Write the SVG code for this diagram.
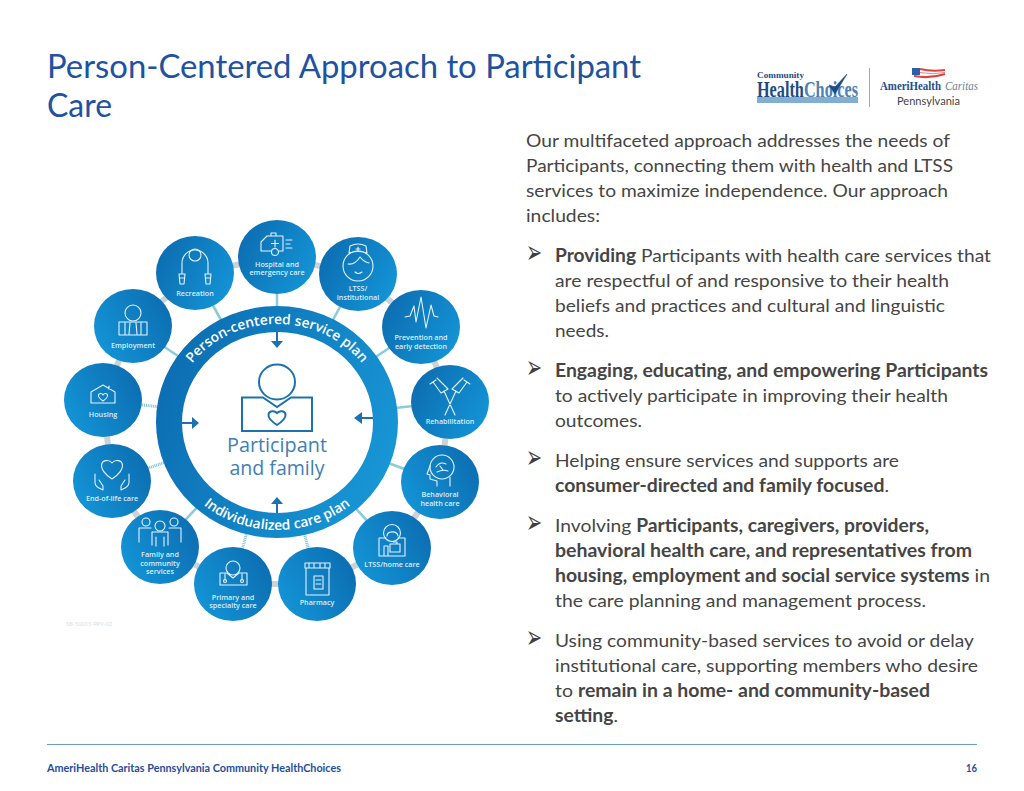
<svg xmlns="http://www.w3.org/2000/svg" width="1024" height="791" viewBox="0 0 1024 791">
<style>
text{font-family:"Lato","Liberation Sans",sans-serif}
.t{font-size:32px;font-weight:400;fill:#2152a0}
.b{font-size:18.2px;fill:#454545}
.bb{font-weight:700}
.bu{font-family:"DejaVu Sans",sans-serif;font-size:16px;fill:#404040}
.f{font-size:10.5px;font-weight:700;fill:#1f4e9e}
.l{font-family:"Open Sans","Liberation Sans",sans-serif;font-size:7.2px;font-weight:600;fill:#d9eef9;text-anchor:middle}
.i{fill:none;stroke:#e4f3fb;stroke-width:1.1;stroke-linejoin:round;stroke-linecap:round}
.g{stroke:#ccd2d5;stroke-width:6;fill:none}
.c{stroke:#8ccbdc;stroke-width:2.6;fill:none}
.d{stroke:#7fc4cf;stroke-width:3;fill:none;stroke-dasharray:1 .8}
.m{fill:none;stroke:#1c72af;stroke-width:2}
.a{fill:#1c72af;stroke:none}
.r{font-family:"Open Sans","Liberation Sans",sans-serif;font-size:13.8px;font-weight:600;fill:#fff;text-anchor:middle}
.n{stroke:none}
</style>
<defs>
<linearGradient id="ring" x1="0" y1="0.3" x2="1" y2="0.7"><stop offset="0" stop-color="#0c6db2"/><stop offset="1" stop-color="#1897d6"/></linearGradient>
<linearGradient id="gd" x1="0" y1="0.2" x2="1" y2="0.7"><stop offset="0" stop-color="#0c6cb0"/><stop offset="1" stop-color="#1394d6"/></linearGradient>
<linearGradient id="gl" x1="0" y1="0.7" x2="1" y2="0.2"><stop offset="0" stop-color="#1394d6"/><stop offset="1" stop-color="#0c6cb0"/></linearGradient>
<path id="arcTop" d="M171,422 A106,98 0 0 1 383,422"/>
<path id="arcBot" d="M162,422 A115,108 0 0 0 392,422"/>
</defs>
<rect width="1024" height="791" fill="#fff"/>

<g id="title">
<text class="t" x="47" y="78" textLength="594" lengthAdjust="spacingAndGlyphs">Person-Centered Approach to Participant</text>
<text class="t" x="47" y="117" textLength="65" lengthAdjust="spacingAndGlyphs">Care</text>
</g>

<g id="logos">
<text x="757" y="78" textLength="47" lengthAdjust="spacingAndGlyphs" style="font-family:'Liberation Serif',serif;font-size:8.5px;font-weight:700;fill:#1f4a82">Community</text>
<text x="757" y="97" textLength="101" lengthAdjust="spacingAndGlyphs" style="font-family:'Liberation Serif',serif;font-size:23px;font-weight:700;fill:#1f4a82">Health<tspan style="fill:#4f80b0">Choices</tspan></text>
<rect x="757" y="97" width="101" height="6" fill="#82aed0"/>
<path d="M829,85 L835,94 L847,74 L835,87Z" fill="#1f4a82" stroke="#1f4a82" stroke-width=".6"/>
<path d="M869.500,68 V107" stroke="#a8a8a8" stroke-width="1"/>
<rect x="912" y="68" width="8" height="7" fill="#2b5ea6"/>
<path d="M920,69 Q932,72 945,70 M914,76 Q930,79 945,74" stroke="#d8453c" stroke-width="2" fill="none"/>
<path d="M920,72.500 Q932,75 945,72.500" stroke="#e38a84" stroke-width="1" fill="none"/>
<text x="880" y="90" textLength="61" lengthAdjust="spacingAndGlyphs" style="font-family:'Liberation Serif',serif;font-size:12px;font-weight:700;fill:#1f4e8c">AmeriHealth</text>
<text x="945" y="90" textLength="33" lengthAdjust="spacingAndGlyphs" style="font-family:'Liberation Serif',serif;font-size:12px;font-style:italic;fill:#6d7f95">Caritas</text>
<text x="897" y="105" textLength="63" lengthAdjust="spacingAndGlyphs" style="font-size:10.500px;fill:#444">Pennsylvania</text>
</g>

<g id="connectors">
<path class="g" d="M277,257 L358,274 L421,327 L450,402 L440,482 L392,548 L317,584 L233,584 L160,547 L112,481 L103,400 L133,326 L195,273 L277,257"/>
<path class="c" d="M277,257V317M195,273L226,329M133,326L187,362M358,274L328,329M421,327L368,362M450,402L386,409M440,482L380,460M392,548L349,501M160,547L204,500"/>
<path class="d" d="M103,400L168,408M112,481L174,459M233,584L249,524M317,584L302,524"/>
</g>

<g id="ring-hub">
<path fill="url(#ring)" fill-rule="evenodd" d="M156,422 A121,116 0 1 1 398,422 A121,116 0 1 1 156,422Z M182,422.500 A95.500,90.500 0 1 0 373,422.500 A95.500,90.500 0 1 0 182,422.500Z"/>
<text class="r"><textPath href="#arcTop" startOffset="50%">Person-centered service plan</textPath></text>
<text class="r"><textPath href="#arcBot" startOffset="50%">Individualized care plan</textPath></text>
</g>

<g id="participant">
<ellipse class="m" cx="277" cy="382" rx="18" ry="17.500"/>
<path class="m" d="M242,397.500 H263 L277,407 L291,397.500 H312 V431 H242Z"/>
<path class="m" d="M277,425 C271,421 268,418 268.500,414.500 C269,411 274,410 277,413 C280,410 285,411 285.500,414.500 C286,418 283,421 277,425Z"/>
<text x="277" y="452" text-anchor="middle" textLength="100" lengthAdjust="spacingAndGlyphs" style="font-family:'Open Sans',sans-serif;font-size:20.5px;fill:#3f80b4">Participant</text>
<text x="277" y="475" text-anchor="middle" textLength="95" lengthAdjust="spacingAndGlyphs" style="font-family:'Open Sans',sans-serif;font-size:20.5px;fill:#3f80b4">and family</text>
<path class="m" d="M277,332V342M182,423H193M373,418H362M277,513V503"/>
<path class="a" d="M271,341H283L277,348Z M192,417V429L199,423Z M362,412V424L354,418Z M271,504H283L277,497Z"/>
</g>

<g id="hospital" transform="translate(277,257)"><ellipse class="n" rx="39" ry="37" fill="url(#gd)"/>
<path class="i" d="M-16,-6 V-15 L-10,-21 H6 V-6 H2 M-6,-6 H-16 M-1,-21V-24H-6V-21"/><circle class="i" cx="-2" cy="-5" r="3.500"/><path class="i" d="M-2,-17V-10M-5.500,-13.500H1.500M9,-17H15M9,-13H13M9,-9H15"/>
<text class="l" y="10">Hospital and</text><text class="l" y="18">emergency care</text></g>

<g id="recreation" transform="translate(195,273)"><ellipse class="n" rx="39" ry="37" fill="url(#gd)"/>
<circle class="i" cx="0" cy="-18" r="6"/><path class="i" d="M-13,1V-10A13,13 0 0 1 13,-10V1M-16,1H-10L-11,11H-15ZM10,1H16L15,11H11ZM-15,5H-11M11,5H15"/>
<text class="l" y="23">Recreation</text></g>

<g id="employment" transform="translate(133,326)"><ellipse class="n" rx="39" ry="37" fill="url(#gl)"/>
<circle class="i" cx="0" cy="-13" r="8"/><path class="i" d="M-14,-4H14V9H-14ZM-8,-4V9M8,-4V9M-3,-3L-4,8M3,-3L4,8"/>
<text class="l" y="22">Employment</text></g>

<g id="housing" transform="translate(103,400)"><ellipse class="n" rx="39" ry="37" fill="url(#gl)"/>
<path class="i" d="M-12,-8L0,-15L12,-8V3H-12ZM6,-14V-11"/><path class="i" d="M0,1C-3,-1 -5,-3 -4.500,-5C-4,-7 -1,-7 0,-5C1,-7 4,-7 4.500,-5C5,-3 3,-1 0,1Z"/>
<text class="l" y="17">Housing</text></g>

<g id="end-of-life" transform="translate(112,481)"><ellipse class="n" rx="39" ry="37" fill="url(#gl)"/>
<path class="i" d="M0,-2C-6,-6 -11,-11 -10.500,-16C-10,-21 -3,-22 0,-18C3,-22 10,-21 10.500,-16C11,-11 6,-6 0,-2Z"/><path class="i" d="M-17,-7L-17,1Q-17,5 -13,7L-9,9V5L-13,-1M17,-7L17,1Q17,5 13,7L9,9V5L13,-1"/>
<text class="l" y="20">End-of-life care</text></g>

<g id="family" transform="translate(160,547)"><ellipse class="n" rx="39" ry="37" fill="url(#gl)"/>
<circle class="i" cx="-14" cy="-25" r="4"/><circle class="i" cx="0" cy="-21" r="5"/><circle class="i" cx="14" cy="-25" r="4"/><path class="i" d="M-21,-5V-19H-9M21,-5V-19H9M-8,-2V-15H8V-2M-4,-10V-1M4,-10V-1"/>
<text class="l" y="10">Family and</text><text class="l" y="19">community</text><text class="l" y="27">services</text></g>

<g id="primary" transform="translate(233,584)"><ellipse class="n" rx="39" ry="37" fill="url(#gl)"/>
<circle class="i" cx="0" cy="-16" r="7"/><path class="i" d="M-13,-11H-6L0,-6L6,-11H14V1H-13ZM-8,-10V-4M9,-10V-4"/><circle class="i" cx="-8" cy="-3" r="1.500"/><circle class="i" cx="9" cy="-3" r="1.500"/>
<text class="l" y="16">Primary and</text><text class="l" y="24">specialty care</text></g>

<g id="pharmacy" transform="translate(317,584)"><ellipse class="n" rx="39" ry="37" fill="url(#gl)"/>
<path class="i" d="M-12,-21H13V-16H-12ZM-11,-16H12V11H-11ZM-3,-8H6V5H-3ZM-1,-4H4M-1,0H4M-8,-21V-16M-3,-21V-16M3,-21V-16M8,-21V-16"/>
<text class="l" y="21">Pharmacy</text></g>

<g id="ltss-home" transform="translate(392,548)"><ellipse class="n" rx="39" ry="37" fill="url(#gl)"/>
<circle class="i" cx="0" cy="-15" r="8.500"/><path class="i" d="M-5,-12C-5,-17 5,-18 6,-12M-13,-10V8H13V-10H6M-13,-10H-6M-8,8V-2H-4V8M-2,-4H8V4H-2ZM1,-6H5V-4H1"/>
<text class="l" y="19">LTSS/home care</text></g>

<g id="behavioral" transform="translate(440,482)"><ellipse class="n" rx="39" ry="37" fill="url(#gl)"/>
<circle class="i" cx="2" cy="-15" r="12"/><path class="i" d="M-10,-16L-13,-8L-10,-7V-3L-3,-1V4M10,-5V4"/><path class="i" d="M-4,-15Q0,-21 6,-18M-3,-10Q3,-13 8,-11M0,-16L3,-12"/>
<text class="l" y="15">Behavioral</text><text class="l" y="24">health care</text></g>

<g id="rehabilitation" transform="translate(450,402)"><ellipse class="n" rx="39" ry="37" fill="url(#gd)"/>
<path class="i" d="M-20,-18L-14,-22M20,-18L14,-22M-17,-20L-9,-9L-2,-13L-13,-24M17,-20L9,-9L2,-13L13,-24M-6,-11L5,13M6,-11L-5,13"/>
<text class="l" y="22">Rehabilitation</text></g>

<g id="prevention" transform="translate(421,327)"><ellipse class="n" rx="39" ry="37" fill="url(#gd)"/>
<path class="i" d="M-16,-10L-11,-11L-7,-21L-5,-5L0,-30L5,1L10,-22L13,-11L17,-10"/>
<text class="l" y="13">Prevention and</text><text class="l" y="22">early detection</text></g>

<g id="ltss" transform="translate(358,274)"><ellipse class="n" rx="39" ry="37" fill="url(#gd)"/>
<circle class="i" cx="0" cy="-8" r="15"/><path class="i" d="M-9,-21L-8,-28Q0,-32 8,-28L9,-21Q0,-24 -9,-21ZM-10,-10Q-3,-9 2,-17Q6,-12 11,-11M-3,-2Q0,1 4,-2M0,-27V-23M-2,-25H2"/>
<text class="l" y="17">LTSS/</text><text class="l" y="26">institutional</text></g>

<text x="66" y="626" textLength="46" lengthAdjust="spacingAndGlyphs" style="font-size:6px;fill:#dcdcdc">SB-50015-PPY-02</text>

<g id="intro">
<text class="b" x="526" y="147" textLength="424" lengthAdjust="spacingAndGlyphs">Our multifaceted approach addresses the needs of</text>
<text class="b" x="526" y="172" textLength="427" lengthAdjust="spacingAndGlyphs">Participants, connecting them with health and LTSS</text>
<text class="b" x="526" y="197" textLength="422" lengthAdjust="spacingAndGlyphs">services to maximize independence. Our approach</text>
<text class="b" x="526" y="222" textLength="74" lengthAdjust="spacingAndGlyphs">includes:</text>
</g>
<g id="bullets">
<text class="bu" transform="translate(526,263) scale(1.2,2)">➢</text>
<text class="bu" transform="translate(526,378) scale(1.2,2)">➢</text>
<text class="bu" transform="translate(526,468) scale(1.2,2)">➢</text>
<text class="bu" transform="translate(526,533) scale(1.2,2)">➢</text>
<text class="bu" transform="translate(526,648) scale(1.2,2)">➢</text>
<text class="b" x="555" y="262" textLength="436" lengthAdjust="spacingAndGlyphs"><tspan class="bb">Providing</tspan> Participants with health care services that</text>
<text class="b" x="555" y="287" textLength="394" lengthAdjust="spacingAndGlyphs">are respectful of and responsive to their health</text>
<text class="b" x="555" y="312" textLength="390" lengthAdjust="spacingAndGlyphs">beliefs and practices and cultural and linguistic</text>
<text class="b" x="555" y="337" textLength="54" lengthAdjust="spacingAndGlyphs">needs.</text>
<text class="b bb" x="555" y="377" textLength="433" lengthAdjust="spacingAndGlyphs">Engaging, educating, and empowering Participants</text>
<text class="b" x="555" y="402" textLength="393" lengthAdjust="spacingAndGlyphs">to actively participate in improving their health</text>
<text class="b" x="555" y="427" textLength="87" lengthAdjust="spacingAndGlyphs">outcomes.</text>
<text class="b" x="555" y="467" textLength="344" lengthAdjust="spacingAndGlyphs">Helping ensure services and supports are</text>
<text class="b" x="555" y="492" textLength="334" lengthAdjust="spacingAndGlyphs"><tspan class="bb">consumer-directed and family focused</tspan>.</text>
<text class="b" x="555" y="532" textLength="374" lengthAdjust="spacingAndGlyphs">Involving <tspan class="bb">Participants, caregivers, providers,</tspan></text>
<text class="b bb" x="555" y="557" textLength="417" lengthAdjust="spacingAndGlyphs">behavioral health care, and representatives from</text>
<text class="b" x="555" y="582" textLength="435" lengthAdjust="spacingAndGlyphs"><tspan class="bb">housing, employment and social service systems</tspan> in</text>
<text class="b" x="555" y="607" textLength="371" lengthAdjust="spacingAndGlyphs">the care planning and management process.</text>
<text class="b" x="555" y="647" textLength="419" lengthAdjust="spacingAndGlyphs">Using community-based services to avoid or delay</text>
<text class="b" x="555" y="672" textLength="423" lengthAdjust="spacingAndGlyphs">institutional care, supporting members who desire</text>
<text class="b" x="555" y="697" textLength="375" lengthAdjust="spacingAndGlyphs">to <tspan class="bb">remain in a home- and community-based</tspan></text>
<text class="b" x="555" y="722" textLength="63" lengthAdjust="spacingAndGlyphs"><tspan class="bb">setting</tspan>.</text>
</g>
<g id="footer">
<path d="M47,744.500H977" stroke="#6a9cc8" stroke-width="1"/>
<text class="f" x="47" y="772" textLength="294" lengthAdjust="spacingAndGlyphs">AmeriHealth Caritas Pennsylvania Community HealthChoices</text>
<text class="f" x="966" y="772" textLength="11" lengthAdjust="spacingAndGlyphs">16</text>
</g>
</svg>
